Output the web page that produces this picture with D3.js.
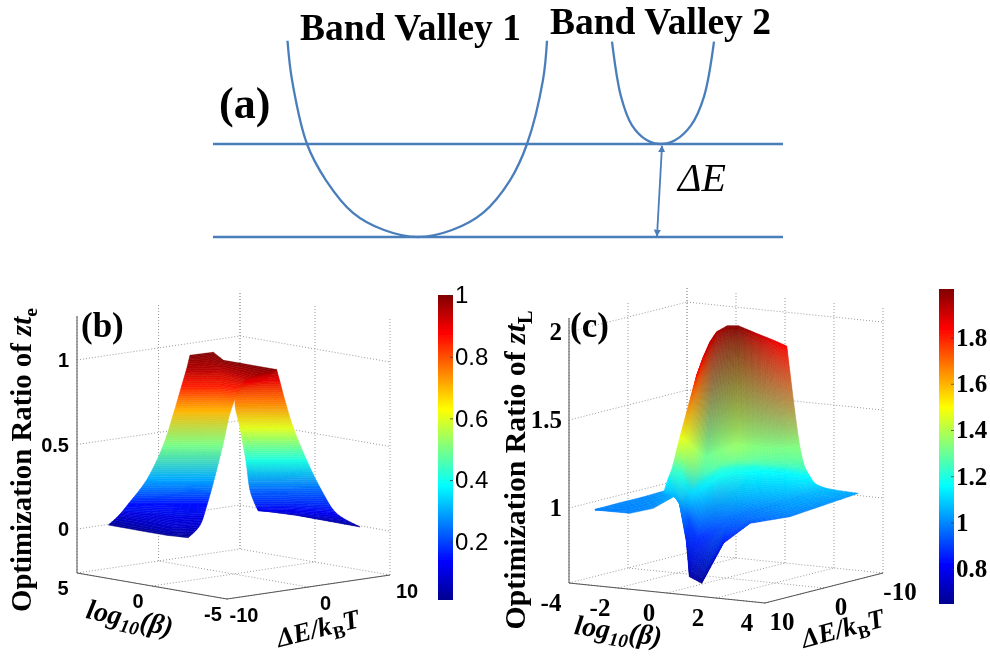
<!DOCTYPE html>
<html>
<head>
<meta charset="utf-8">
<script src="https://cdn.jsdelivr.net/npm/d3@7/dist/d3.min.js"></script>
<style>
    html, body { margin: 0; padding: 0; background: #fff; }
    text { fill: #000; }
</style>
</head>
<body>
<svg id="chart" width="990" height="657"></svg>
<script>
// panel (a): band valleys, wave vector k against energy in units of delta E
var valley1K = [-1.305, -1.26, -1.11, -0.92, -0.65, -0.34, 0, 0.34, 0.65, 0.92, 1.09, 1.25, 1.29];
var valley1E = [2.11, 1.69, 1, 0.61, 0.26, 0.075, 0, 0.075, 0.26, 0.61, 1, 1.69, 2.11];
var valley2K = [1.94, 2.03, 2.14, 2.29, 2.43, 2.57, 2.73, 2.86, 2.96];
var valley2E = [2.10, 1.51, 1.20, 1.04, 1, 1.04, 1.20, 1.51, 2.10];
var levels = [0, 1];
var gapK = [2.44, 2.39];
var gapE = [0.98, 0.01];

// panel (b): surface sheets, rows run bottom to top
var bLeftBeta = [
    [4.88, 2.73, 0.95, -0.20],
    [3.67, 1.77, -0.30, -0.77],
    [3.37, 2.55, 1.73, 0.95],
    [2.78, 2.09, 1.38, 0.73],
    [2.29, 1.68, 1.07, 0.47],
    [1.96, 1.38, 0.76, 0.23],
    [1.73, 1.17, 0.61, -0.73],
    [1.58, 1.07, 0.51, -3.19],
    [2.52, 2.43, 0.46, -3.12]
];
var bLeftDelta = [
    [-6.37, -6.44, -6.46, -5.92],
    [-7.37, -7.40, -7.93, -5.52],
    [-6.71, -4.94, -3.17, -1.47],
    [-5.45, -3.94, -2.39, -1.00],
    [-4.38, -3.06, -1.73, -0.43],
    [-3.66, -2.39, -1.07, 0.08],
    [-3.17, -1.95, -0.74, -0.34],
    [-2.84, -1.73, -0.52, -2.22],
    [-0.70, 2.00, -0.40, -0.44]
];
var bLeftRatio = [
    [0, 0, 0, 0],
    [0.08, 0.08, 0.08, 0.08],
    [0.15, 0.15, 0.15, 0.15],
    [0.30, 0.30, 0.30, 0.30],
    [0.50, 0.50, 0.50, 0.50],
    [0.70, 0.70, 0.70, 0.70],
    [0.85, 0.85, 0.85, 0.85],
    [0.95, 0.95, 0.95, 0.95],
    [1, 1, 1, 1]
];
var bRightBeta = [
    [1.29, -0.53, -3.59],
    [-0.58, -1.95, -3.91],
    [-0.36, -1.50, -2.55],
    [-0.23, -1.16, -2.09],
    [-0.05, -0.87, -1.69],
    [0.10, -0.67, -1.43],
    [-1.15, -1.34, -1.74],
    [-2.83, -2.67, -2.42]
];
var bRightDelta = [
    [5.43, 7.20, 8.92],
    [1.85, 3.97, 5.45],
    [1.37, 3.84, 6.12],
    [1.08, 3.09, 5.12],
    [0.70, 2.47, 4.24],
    [0.37, 2.03, 3.69],
    [-0.82, 0.99, 2.42],
    [-2.17, -0.85, 0.84]
];
var bRightRatio = [
    [0.06, 0.04, 0.01],
    [0.12, 0.12, 0.12],
    [0.23, 0.23, 0.23],
    [0.41, 0.41, 0.41],
    [0.60, 0.60, 0.60],
    [0.76, 0.76, 0.76],
    [0.90, 0.90, 0.90],
    [0.98, 0.98, 0.98]
];

// panel (c): flat wing behind, then the main sheet
var cWingBeta = [[-3.22, -1.82, -1.51, -1.14], [-3.29, -3.13, -3.11, -2.79]];
var cWingDelta = [[8.85, 8.74, 6.07, 3.62], [8.53, 4.99, 1.40, -1.23]];
var cWingRatio = [[0.99, 0.99, 1, 1.06], [0.99, 1, 1, 1.02]];
var cBeta = [
    [-1.72, -1.11, 0.45, 0.92, 1.44, 1.32, 1.62, 3.03, 3.35],
    [-1.51, -0.70, -0.54, 0.77, 1.04, 1.08, 1.40, 2.12, 2.65],
    [-0.68, -0.28, -0.09, 0.09, 0.25, 0.35, 0.53, 1.30, 2.46],
    [0.54, 0.71, 0.73, 0.18, 0.41, 0.93, 1.09, 1.76, 2.35],
    [1.02, 0.12, -0.40, -0.75, -0.32, 0.21, 0.21, 0.25, 0.72]
];
var cDelta = [
    [3.47, 3.49, 8.54, 10.03, 10.09, 5.92, 2.64, 1.71, -8.52],
    [3.61, 4.90, 4.02, 8.15, 6.75, 3.80, 1.16, -0.91, -5.49],
    [6.24, 6.37, 5.44, 4.21, 2.04, -0.36, -3.00, -4.34, -4.05],
    [10.04, 9.62, 8.02, 4.02, 2.70, 2.04, -0.66, -1.83, -2.77],
    [9.19, 4.34, 1.06, -1.51, -1.54, -1.23, -4.34, -6.99, -7.31]
];
var cRatio = [
    [1.06, 1.05, 0.85, 0.68, 0.65, 0.84, 0.93, 0.98, 1.03],
    [1.14, 1.03, 0.93, 0.87, 0.90, 0.97, 0.99, 1.03, 1.08],
    [1.25, 1.20, 1.10, 1.13, 1.18, 1.18, 1.16, 1.15, 1.15],
    [1.47, 1.45, 1.38, 1.30, 1.33, 1.36, 1.33, 1.32, 1.33],
    [1.82, 1.87, 1.92, 1.95, 1.99, 2.00, 1.93, 1.87, 1.84]
];

// tick labels
var bBetaTicks = [5, 0, -5];
var bDeltaTicks = [-10, 0, 10];
var bRatioTicks = [0, 0.5, 1];
var bBarTicks = [0.2, 0.4, 0.6, 0.8, 1];
var cBetaTicks = [-4, -2, 0, 2, 4];
var cDeltaTicks = [10, 0, -10];
var cRatioTicks = [1, 1.5, 2];
var cBarTicks = [0.8, 1, 1.2, 1.4, 1.6, 1.8];

var svg = d3.select("#chart");
var serif = "'Liberation Serif', serif";
var sans = "'Liberation Sans', sans-serif";
var blue = "#4a7ebb";

svg.append("defs").append("filter")
    .attr("id", "soft")
    .append("feGaussianBlur")
    .attr("stdDeviation", 0.5);

var page = svg.append("g").attr("filter", "url(#soft)");

function jet(domain) {
    var lo = domain[0], hi = domain[1], span = hi - lo;
    return d3.scaleLinear()
        .domain([lo, lo + 0.125 * span, lo + 0.375 * span, lo + 0.625 * span, lo + 0.875 * span, hi])
        .range(["#00008f", "#0000ff", "#00ffff", "#ffff00", "#ff0000", "#800000"])
        .clamp(true);
}

// orthographic box: every data axis adds a straight shift on screen
function makeBox(o) {
    var bx = d3.scaleLinear().domain(o.beta).range([0, o.betaShift[0]]);
    var by = d3.scaleLinear().domain(o.beta).range([0, o.betaShift[1]]);
    var dx = d3.scaleLinear().domain(o.delta).range([0, o.deltaShift[0]]);
    var dy = d3.scaleLinear().domain(o.delta).range([0, o.deltaShift[1]]);
    var zy = d3.scaleLinear().domain(o.ratio).range([0, -o.height]);
    return function(b, d, z) {
        return [o.origin[0] + bx(b) + dx(d), o.origin[1] + by(b) + dy(d) + zy(z)];
    };
}

function lerp(a, b, t) { return a + (b - a) * t; }

function spline(p0, p1, p2, p3, t) {
    return 0.5 * (2 * p1 + (p2 - p0) * t + (2 * p0 - 5 * p1 + 4 * p2 - p3) * t * t + (3 * p1 - p0 - 3 * p2 + p3) * t * t * t);
}

// colours blend between the grid corners, row edges are smoothed with a spline
function drawSheet(g, box, color, betas, deltas, ratios, across) {
    var rows = betas.length;
    var screen = betas.map(function(row, i) {
        return row.map(function(b, j) { return box(b, deltas[i][j], ratios[i][j]); });
    });
    var along = function(j, i, t) {
        var a = screen[Math.max(i - 1, 0)][j], b = screen[i][j], c = screen[i + 1][j], d = screen[Math.min(i + 2, rows - 1)][j];
        return [spline(a[0], b[0], c[0], d[0], t), spline(a[1], b[1], c[1], d[1], t)];
    };
    for (var i = 0; i < rows - 1; i++) {
        for (var j = 0; j < betas[0].length - 1; j++) {
            var c00 = d3.rgb(color(ratios[i][j])), c01 = d3.rgb(color(ratios[i][j + 1]));
            var c10 = d3.rgb(color(ratios[i + 1][j])), c11 = d3.rgb(color(ratios[i + 1][j + 1]));
            var tall = Math.max(Math.abs(screen[i + 1][j][1] - screen[i][j][1]), Math.abs(screen[i + 1][j + 1][1] - screen[i][j + 1][1]));
            var up = Math.max(3, Math.ceil(tall / 2));
            var at = function(s, t) {
                var l = along(j, i, t), r = along(j + 1, i, t);
                return [lerp(l[0], r[0], s), lerp(l[1], r[1], s)];
            };
            for (var b = 0; b < up; b++) {
                for (var a = 0; a < across; a++) {
                    var s = (a + 0.5) / across, t = (b + 0.5) / up;
                    var fill = ["r", "g", "b"].map(function(ch) {
                        return Math.round(lerp(lerp(c00[ch], c01[ch], s), lerp(c10[ch], c11[ch], s), t));
                    });
                    var col = "rgb(" + fill.join(",") + ")";
                    g.append("polygon")
                        .attr("points", [at(a / across, b / up), at((a + 1) / across, b / up),
                            at((a + 1) / across, (b + 1) / up), at(a / across, (b + 1) / up)].join(" "))
                        .attr("fill", col)
                        .attr("stroke", col)
                        .attr("stroke-width", 0.5);
                }
            }
        }
    }
}

function drawFrame(g, box, o) {
    var grid = function(p, q) {
        g.append("line")
            .attr("x1", p[0]).attr("y1", p[1])
            .attr("x2", q[0]).attr("y2", q[1])
            .attr("stroke", "#999")
            .attr("stroke-width", 1)
            .attr("stroke-dasharray", "1 2");
    };
    var solid = function(p, q) {
        g.append("line")
            .attr("x1", p[0]).attr("y1", p[1])
            .attr("x2", q[0]).attr("y2", q[1])
            .attr("stroke", "#555")
            .attr("stroke-width", 1);
    };
    var bFront = o.beta[0], bBack = o.beta[1], dFront = o.delta[0], dBack = o.delta[1];
    var zLo = o.ratio[0], zHi = o.ratio[1];

    o.betaTicks.forEach(function(b) {
        grid(box(b, dFront, zLo), box(b, dBack, zLo));
        grid(box(b, dBack, zLo), box(b, dBack, zHi));
    });
    o.deltaTicks.forEach(function(d) {
        grid(box(bFront, d, zLo), box(bBack, d, zLo));
        grid(box(bBack, d, zLo), box(bBack, d, zHi));
    });
    o.ratioTicks.forEach(function(z) {
        grid(box(bBack, dFront, z), box(bBack, dBack, z));
        grid(box(bBack, dBack, z), box(bFront, dBack, z));
    });

    solid(box(bBack, dFront, zLo), box(bBack, dFront, zHi));
    solid(box(bBack, dFront, zLo), box(bFront, dFront, zLo));
    solid(box(bFront, dFront, zLo), box(bFront, dBack, zLo));
}

function drawTickLabels(g, box, o) {
    var label = function(p, txt, anchor) {
        g.append("text")
            .attr("x", p[0])
            .attr("y", p[1])
            .attr("text-anchor", anchor)
            .attr("font-family", o.tickFont)
            .attr("font-weight", "bold")
            .attr("font-size", o.tickSize)
            .text(txt);
    };
    o.ratioTicks.forEach(function(z) {
        var p = box(o.beta[1], o.delta[0], z);
        label([p[0] + o.ratioOffset[0], p[1] + o.ratioOffset[1]], z, "end");
    });
    o.betaTicks.forEach(function(b) {
        var p = box(b, o.delta[0], o.ratio[0]);
        label([p[0] + o.betaOffset[0], p[1] + o.betaOffset[1]], b, "middle");
    });
    o.deltaTicks.forEach(function(d) {
        var p = box(o.beta[0], d, o.ratio[0]);
        label([p[0] + o.deltaOffset[0], p[1] + o.deltaOffset[1]], d, "middle");
    });
}

function drawColorbar(id, o) {
    var y = d3.scaleLinear().domain(o.domain).range([o.bottom, o.top]);
    var color = jet(o.domain);
    var grad = svg.append("defs").append("linearGradient")
        .attr("id", id)
        .attr("x1", 0).attr("y1", 1)
        .attr("x2", 0).attr("y2", 0);
    d3.range(0, 1.001, 0.025).forEach(function(t) {
        grad.append("stop")
            .attr("offset", t)
            .attr("stop-color", color(o.domain[0] + t * (o.domain[1] - o.domain[0])));
    });
    page.append("rect")
        .attr("x", o.left)
        .attr("y", o.top)
        .attr("width", o.width)
        .attr("height", o.bottom - o.top)
        .attr("fill", "url(#" + id + ")");
    var axis = page.append("g")
        .attr("transform", "translate(" + (o.left + o.width) + ",0)")
        .call(d3.axisRight(y).tickValues(o.ticks).tickSize(-3).tickPadding(4).tickFormat(d3.format("")));
    axis.select(".domain").remove();
    axis.selectAll("line").attr("stroke", "#333").attr("stroke-width", 0.7);
    axis.selectAll("text")
        .attr("font-family", o.font)
        .attr("font-weight", o.weight)
        .attr("font-size", o.size)
        .attr("x", o.labelGap);
}

// rotated label with a subscript part
function richLabel(x, y, angle, size, parts) {
    var t = page.append("text")
        .attr("transform", "translate(" + x + "," + y + ")rotate(" + angle + ")")
        .attr("text-anchor", "middle")
        .attr("font-family", serif)
        .attr("font-weight", "bold")
        .attr("font-size", size);
    var shift = 0;
    parts.forEach(function(p) {
        var d = p.sub ? size * 0.22 : 0;
        t.append("tspan")
            .attr("dy", d - shift)
            .attr("font-style", p.italic ? "italic" : "normal")
            .attr("font-size", p.sub ? size * 0.68 : size)
            .text(p.text);
        shift = d;
    });
}

// ---------- panel (a)
var kx = d3.scaleLinear().domain([-2.05, 3.65]).range([213, 783]);
var ey = d3.scaleLinear().domain([0, 1]).range([237, 144]);
var curve = d3.line()
    .x(function(d) { return kx(d[0]); })
    .y(function(d) { return ey(d[1]); })
    .curve(d3.curveCatmullRom.alpha(0.5));

svg.append("defs").append("marker")
    .attr("id", "head")
    .attr("viewBox", "0 0 10 10")
    .attr("refX", 9).attr("refY", 5)
    .attr("markerWidth", 4).attr("markerHeight", 4)
    .attr("orient", "auto-start-reverse")
    .append("path")
    .attr("d", "M0,0L10,5L0,10Z")
    .attr("fill", blue);

[d3.zip(valley1K, valley1E), d3.zip(valley2K, valley2E)].forEach(function(v) {
    page.append("path")
        .attr("d", curve(v))
        .attr("fill", "none")
        .attr("stroke", blue)
        .attr("stroke-width", 2.3);
});
levels.forEach(function(e) {
    page.append("line")
        .attr("x1", kx.range()[0]).attr("x2", kx.range()[1])
        .attr("y1", ey(e)).attr("y2", ey(e))
        .attr("stroke", blue)
        .attr("stroke-width", 2.3);
});
page.append("line")
    .attr("x1", kx(gapK[0])).attr("y1", ey(gapE[0]))
    .attr("x2", kx(gapK[1])).attr("y2", ey(gapE[1]))
    .attr("stroke", blue)
    .attr("stroke-width", 1.8)
    .attr("marker-start", "url(#head)")
    .attr("marker-end", "url(#head)");

page.append("text").attr("x", 300).attr("y", 40)
    .attr("font-family", serif).attr("font-weight", "bold").attr("font-size", 37.5)
    .text("Band Valley 1");
page.append("text").attr("x", 550).attr("y", 34)
    .attr("font-family", serif).attr("font-weight", "bold").attr("font-size", 37.5)
    .text("Band Valley 2");
page.append("text").attr("x", 219).attr("y", 118)
    .attr("font-family", serif).attr("font-weight", "bold").attr("font-size", 44)
    .text("(a)");
page.append("text").attr("x", 678).attr("y", 191)
    .attr("font-family", serif).attr("font-style", "italic").attr("font-size", 40)
    .text("\u0394E");

// ---------- panel (b)
var bOpts = {
    origin: [227, 599],
    beta: [-5, 5], betaShift: [-150, -26],
    delta: [-10, 10], deltaShift: [163, -24],
    ratio: [-0.26, 1.26], height: 257,
    betaTicks: bBetaTicks, deltaTicks: bDeltaTicks, ratioTicks: bRatioTicks,
    tickFont: sans, tickSize: 20,
    ratioOffset: [-8, 7], betaOffset: [-14, 22], deltaOffset: [17, 23]
};
var bBox = makeBox(bOpts);
var bColor = jet([0.011, 1]);
var bGroup = page.append("g");
drawFrame(bGroup, bBox, bOpts);
drawSheet(bGroup, bBox, bColor, bLeftBeta, bLeftDelta, bLeftRatio, 3);
drawSheet(bGroup, bBox, bColor, bRightBeta, bRightDelta, bRightRatio, 4);
drawTickLabels(bGroup, bBox, bOpts);
drawColorbar("barB", {
    domain: [0.011, 1], top: 295, bottom: 600, left: 438, width: 15,
    ticks: bBarTicks, font: sans, weight: "normal", size: 24, labelGap: 2
});
page.append("text").attr("x", 81).attr("y", 337)
    .attr("font-family", serif).attr("font-weight", "bold").attr("font-size", 35)
    .text("(b)");
richLabel(31, 460, -90, 28.8, [
    { text: "Optimization Ratio of " }, { text: "zt", italic: true }, { text: "e", sub: true }
]);
richLabel(128, 627, 12, 28, [
    { text: "log", italic: true }, { text: "10", italic: true, sub: true }, { text: "(\u03b2)", italic: true }
]);
richLabel(320, 637, -14, 27, [
    { text: "\u0394E/k", italic: true }, { text: "B", sub: true }, { text: "T", italic: true }
]);

// ---------- panel (c)
var cOpts = {
    origin: [765, 603],
    beta: [4, -4], betaShift: [-196, -20],
    delta: [10, -10], deltaShift: [118, -30],
    ratio: [0.574, 2.08], height: 265,
    betaTicks: cBetaTicks, deltaTicks: cDeltaTicks, ratioTicks: cRatioTicks,
    tickFont: serif, tickSize: 25,
    ratioOffset: [-7, 8], betaOffset: [-18, 28], deltaOffset: [17, 27]
};
var cBox = makeBox(cOpts);
var cColor = jet([0.647, 2.01]);
var cGroup = page.append("g");
drawFrame(cGroup, cBox, cOpts);
drawSheet(cGroup, cBox, cColor, cWingBeta, cWingDelta, cWingRatio, 4);
drawSheet(cGroup, cBox, cColor, cBeta, cDelta, cRatio, 8);
drawTickLabels(cGroup, cBox, cOpts);
drawColorbar("barC", {
    domain: [0.647, 2.01], top: 289, bottom: 604, left: 939, width: 15,
    ticks: cBarTicks, font: serif, weight: "bold", size: 25, labelGap: 2
});
page.append("text").attr("x", 570).attr("y", 337)
    .attr("font-family", serif).attr("font-weight", "bold").attr("font-size", 35)
    .text("(c)");
richLabel(525, 470, -90, 29.8, [
    { text: "Optimization Ratio of " }, { text: "zt", italic: true }, { text: "L", sub: true }
]);
richLabel(617, 640, 8, 28, [
    { text: "log", italic: true }, { text: "10", italic: true, sub: true }, { text: "(\u03b2)", italic: true }
]);
richLabel(845, 637, -15, 27, [
    { text: "\u0394E/k", italic: true }, { text: "B", sub: true }, { text: "T", italic: true }
]);
</script>
</body>
</html>
